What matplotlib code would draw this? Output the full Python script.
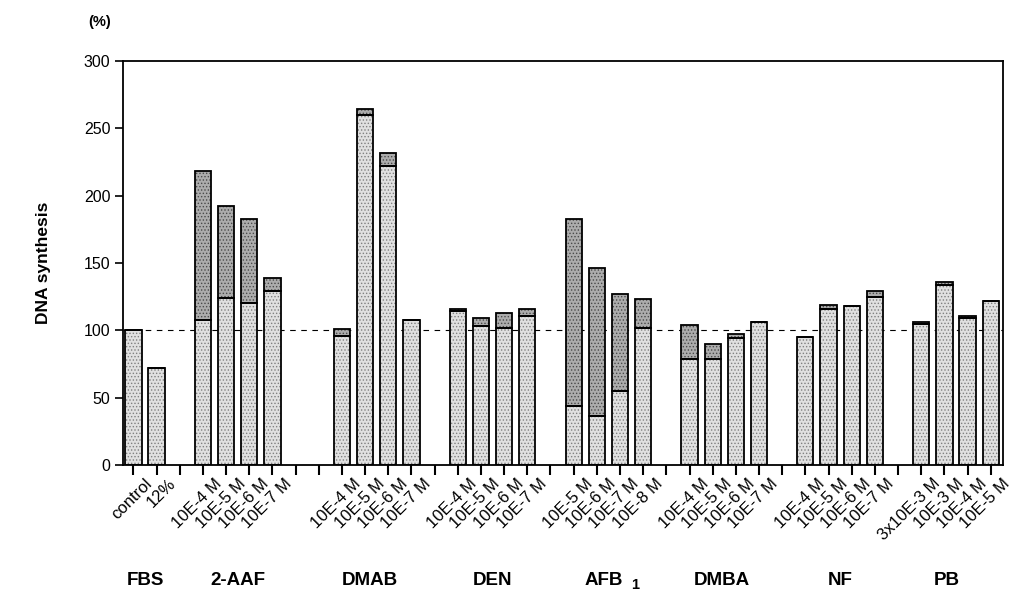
# %% imports
import matplotlib
matplotlib.use('Agg')
import matplotlib.pyplot as plt
import matplotlib.transforms as mtransforms
import numpy as np

plt.rcParams['font.family'] = ['Liberation Sans', 'DejaVu Sans']
plt.rcParams['hatch.linewidth'] = 0.6

# %% data
# slot positions along the x axis, empty slots leave the gaps between groups
slots = [0, 1,
         3, 4, 5, 6,
         9, 10, 11, 12,
         14, 15, 16, 17,
         19, 20, 21, 22,
         24, 25, 26, 27,
         29, 30, 31, 32,
         34, 35, 36, 37]
tick_labels = ['control', '12%',
               '10E-4 M', '10E-5 M', '10E-6 M', '10E-7 M',
               '10E-4 M', '10E-5 M', '10E-6 M', '10E-7 M',
               '10E-4 M', '10E-5 M', '10E-6 M', '10E-7 M',
               '10E-5 M', '10E-6 M', '10E-7 M', '10E-8 M',
               '10E-4 M', '10E-5 M', '10E-6 M', '10E-7 M',
               '10E-4 M', '10E-5 M', '10E-6 M', '10E-7 M',
               '3x10E-3 M', '10E-3 M', '10E-4 M', '10E-5 M']
# lower (light) part of each bar
lower = [100, 72,
         108, 124, 120, 129,
         96, 260, 222, 108,
         114, 103, 102, 111,
         44, 36, 55, 102,
         79, 79, 94.5, 106,
         95, 116, 118, 125,
         105, 134, 109, 121.5]
# total height of each bar (top of the dark part)
total = [100, 72,
         218, 192, 183, 139,
         101, 264, 232, 108,
         116, 109, 113, 116,
         183, 146, 127, 123,
         104, 90, 97, 106,
         95, 119, 118, 129,
         106.5, 136, 110.5, 121.5]
groups = ['FBS', '2-AAF', 'DMAB', 'DEN', 'AFB', 'DMBA', 'NF', 'PB']
group_centers = [0.5, 4.5, 10.2, 15.5, 20.3, 25.4, 30.5, 35.1]

upper = np.array(total) - np.array(lower)

# %% plot
fig = plt.figure(figsize=(10.18, 5.93), dpi=100)
ax = fig.add_axes([0.1208, 0.2159, 0.8645, 0.6812])

w = 0.7
# stipple fills first (hatch drawn in grey), then black outlines on top
ax.bar(slots, lower, width=w, color='#e0e0e0', edgecolor='#808080',
       hatch='.....', linewidth=0)
ax.bar(slots, upper, width=w, bottom=lower, color='#acacac',
       edgecolor='#4a4a4a', hatch='.....', linewidth=0)
ax.bar(slots, lower, width=w, fill=False, edgecolor='black', linewidth=1.3)
ax.bar(slots, upper, width=w, bottom=lower, fill=False, edgecolor='black',
       linewidth=1.3)

# reference line at 100 %
ax.axhline(100, color='black', linestyle=(0, (5, 5)), linewidth=0.8, zorder=0.5)

ax.set_ylim(0, 300)
ax.set_xlim(-0.45, 37.53)
ax.set_yticks(np.arange(0, 301, 50))
ax.tick_params(axis='y', labelsize=11.5, length=6, width=1.2, pad=3)
ax.set_xticks(range(38))
ax.set_xticklabels([''] * 38)
ax.tick_params(axis='x', length=7, width=1.5)
for s in ax.spines.values():
    s.set_linewidth(1.3)

# rotated dose labels, shifted a bit to the right of their ticks
offset = mtransforms.ScaledTranslation(22 / 100, -11 / 100, fig.dpi_scale_trans)
for x, lab in zip(slots, tick_labels):
    ax.text(x, 0, lab, rotation=45, ha='right', va='top', fontsize=12,
            transform=ax.get_xaxis_transform() + offset)

# compound names under each group
for c, g in zip(group_centers, groups):
    ax.text(c, -0.285, g, ha='center', va='center', fontsize=13.5,
            fontweight='bold', transform=ax.get_xaxis_transform())
# subscript of AFB1
ax.text(20.3 + 1.2, -0.298, '1', ha='left', va='center', fontsize=10.5,
        fontweight='bold', transform=ax.get_xaxis_transform())

ax.set_ylabel('DNA synthesis', fontsize=12.5, fontweight='bold', labelpad=24)
fig.text(0.098, 0.963, '(%)', ha='center', va='center', fontsize=10.5,
         fontweight='bold')

fig.savefig('out.png', dpi=100)
